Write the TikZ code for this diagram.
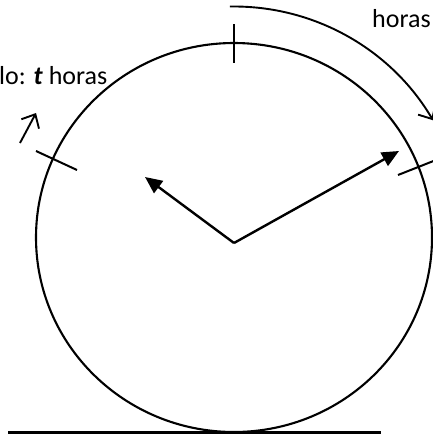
\documentclass[tikz,border=0pt]{standalone}
\usepackage{fontspec}
\setmainfont{Carlito}
\usetikzlibrary{arrows.meta}
\begin{document}
\begin{tikzpicture}[x=1pt,y=-1pt,
  rim/.style={line width=2.1pt},
  tickline/.style={line width=2pt},
  hand/.style={line width=2.4pt,-{Triangle[length=17pt,width=15pt]}},
  barb/.style={line width=1.9pt,-{Straight Barb[length=11pt,width=20pt,line width=1.9pt]}},
  lbl/.style={inner sep=0pt,anchor=base west,font=\fontsize{26}{30}\selectfont}]
\useasboundingbox (0,0) rectangle (432,434);
\coordinate (C) at (234,237.5);
\coordinate (P) at (234,243);
\draw[rim] (C) ellipse [x radius=198, y radius=194.5];
% ground
\coordinate (g1) at (8,432.5);
\coordinate (g2) at (381,432.5);
\draw[line width=3.2pt] (g1) -- (g2);
% ticks
\coordinate (t1a) at (233.5,24); \coordinate (t1b) at (233.5,63);
\coordinate (t2a) at (36,151); \coordinate (t2b) at (77,170);
\coordinate (t3a) at (398,175); \coordinate (t3b) at (436,160);
\draw[tickline] (t1a) -- (t1b);
\draw[tickline] (t2a) -- (t2b);
\draw[tickline] (t3a) -- (t3b);
% hands
\coordinate (L) at (145,177);
\coordinate (R) at (399,151);
\draw[hand] (P) -- (L);
\draw[hand] (P) -- (R);
% outer arc
\draw[barb] (C) ++(-91:231) arc[start angle=-91, end angle=-30.5, radius=231];
% small arrow
\coordinate (s1) at (20,143);
\coordinate (s2) at (36,113);
\draw[barb] (s1) -- (s2);
% labels
\node[lbl] (tl) at (-1,84) {lo: \textbf{\textit{t}} horas};
\node[lbl] (tr) at (372,27) {horas};
\end{tikzpicture}
\end{document}
